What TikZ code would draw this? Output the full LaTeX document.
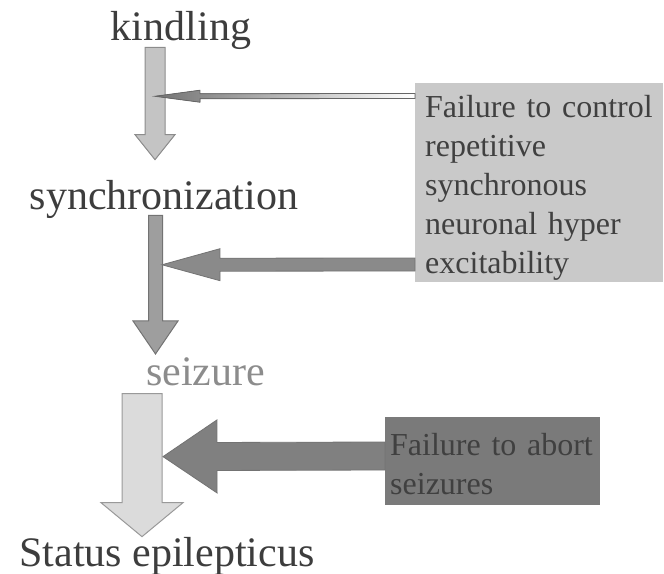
\documentclass[tikz,border=0pt]{standalone}
\usepackage{fontspec}
\setmainfont{Liberation Serif}
\usetikzlibrary{calc}
\definecolor{labelgray}{HTML}{3D3D3D}
\definecolor{seizegray}{HTML}{8C8C8C}
\definecolor{boxtext}{HTML}{404040}
\tikzset{
  %style for the stage names
  stage/.style={
    inner sep=0pt,
    anchor=base,
    text=labelgray,
    font=\fontsize{42}{50}\selectfont},
  %style for the grey boxes
  causebox/.style={
    rectangle,
    anchor=north west,
    inner xsep=10pt,
    inner ysep=0pt,
    align=left,
    text=boxtext,
    font=\fontsize{32}{39}\selectfont},
  %styles for the block arrows
  downarrow/.style={draw=#1, line width=1pt},
  sidearrow/.style={draw=black!55, line width=0.8pt}
}
% block arrow: style, from, to, shaft half width, head half width, head length
\newcommand{\blockarrow}[6]{%
  \path ($(#3)!#6!(#2)$) coordinate (ahbase);
  \filldraw[#1] ($(#2)!#4!90:(#3)$) -- ($(ahbase)!#4!-90:(#2)$)
    -- ($(ahbase)!#5!-90:(#2)$) -- (#3) -- ($(ahbase)!#5!90:(#2)$)
    -- ($(ahbase)!#4!90:(#2)$) -- ($(#2)!#4!-90:(#3)$) -- cycle;}

\begin{document}
\begin{tikzpicture}[x=1pt, y=-1pt]
\useasboundingbox (0,0) rectangle (664,573);
%nodes
\node[stage] (kindling) at (181,40) {kindling};
\node[stage] (sync) at (164,209) {synchronization};
\node[stage, text=seizegray] (seizure) at (205.5,385) {seizure};
\node[stage] (status) at (167,566) {Status epilepticus};

\node[causebox, fill=black!21, text width=228pt, text height=34pt, text depth=165pt]
  (control) at (415,83) {Failure to control\\ repetitive\\ synchronous\\ neuronal hyper\\ excitability};
\node[causebox, fill=black!52, inner xsep=5pt, text width=205pt, text height=38pt, text depth=50pt]
  (abort) at (385,417) {Failure to abort\\ seizures};

%arrow ends
\coordinate (k1) at ([xshift=-26pt,yshift=2pt]kindling.south);
\coordinate (k2) at ([xshift=-9pt,yshift=20pt]sync.north);
\coordinate (s1) at ([xshift=-8.5pt,yshift=3pt]sync.south);
\coordinate (s2) at ([xshift=-50pt,yshift=3pt]seizure.north);
\coordinate (z1) at ([xshift=-63.5pt,yshift=-8pt]seizure.south);
\coordinate (z2) at ([xshift=-25pt]status.north);
\coordinate (c1) at ([yshift=-13pt]control.north west);
\coordinate (c2) at ([xshift=-26pt,yshift=-47pt]kindling.south);
\coordinate (c3) at ([yshift=-181.5pt]control.north west);
\coordinate (c4) at ([xshift=-2pt,yshift=-46.5pt]sync.south);
\coordinate (a1) at ([yshift=-39pt]abort.north west);
\coordinate (a2) at ([xshift=-42.5pt,yshift=-71pt]seizure.south);

%arrows
\blockarrow{fill=black!23, downarrow=black!45}{k1}{k2}{10pt}{20pt}{25pt}
\blockarrow{fill=black!38, downarrow=black!55}{s1}{s2}{7pt}{22.5pt}{33pt}
\blockarrow{fill=black!14, downarrow=black!40}{z1}{z2}{20pt}{41pt}{34pt}
\blockarrow{left color=black!55, right color=white, draw=black!60, line width=0.8pt}{c1}{c2}{2.5pt}{6pt}{45pt}
\blockarrow{fill=black!46, sidearrow}{c3}{c4}{6.5pt}{16pt}{58pt}
\blockarrow{fill=black!50, sidearrow}{a1}{a2}{14pt}{36.5pt}{54pt}

\end{tikzpicture}
\end{document}
